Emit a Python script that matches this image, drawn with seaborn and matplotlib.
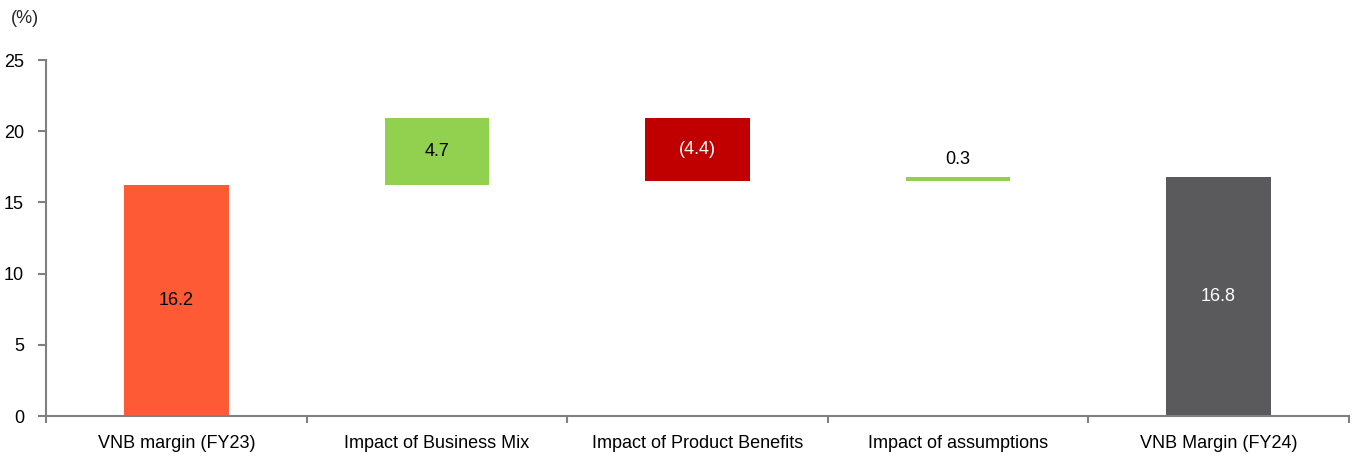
import matplotlib
matplotlib.use("Agg")
import matplotlib.pyplot as plt
import seaborn as sns
import pandas as pd
from matplotlib.ticker import FixedLocator

categories = ["VNB margin (FY23)", "Impact of Business Mix", "Impact of Product Benefits",
              "Impact of assumptions", "VNB Margin (FY24)"]
start_value = 16.2
deltas = [4.7, -4.4, 0.3]
end_value = 16.8
labels = ["16.2", "4.7", "(4.4)", "0.3", "16.8"]
colors = ["#FF5A36", "#92D050", "#C00000", "#92D050", "#5A5A5C"]
label_colors = ["black", "black", "white", "black", "white"]

# compute waterfall bases/heights
bottoms = [0.0]
heights = [start_value]
level = start_value
for d in deltas:
    new = level + d
    bottoms.append(min(level, new))
    heights.append(abs(d))
    level = new
bottoms.append(0.0)
heights.append(end_value)

df = pd.DataFrame({"cat": categories, "height": heights, "bottom": bottoms})

sns.set_theme(style="white")
plt.rcParams["font.family"] = ["Liberation Sans Narrow", "Liberation Sans", "DejaVu Sans"]

fig = plt.figure(figsize=(13.57, 4.57), dpi=100)
ax = fig.add_axes([0.034, 0.0897, 0.96, 0.779])

sns.barplot(data=df, x="cat", y="height", hue="cat", palette=colors, legend=False,
            width=0.4, ax=ax, saturation=1, linewidth=0)

# shift each bar to its waterfall base
for p in ax.patches:
    idx = int(round(p.get_x() + p.get_width() / 2))
    p.set_y(bottoms[idx])

for i, (b, h, t, c) in enumerate(zip(bottoms, heights, labels, label_colors)):
    if h < 1:
        ax.text(i, b + h + 0.6, t, ha="center", va="bottom", color=c, fontsize=13)
    else:
        ax.text(i, b + h / 2, t, ha="center", va="center", color=c, fontsize=13)

ax.set_xlim(-0.5, len(categories) - 0.5)
ax.set_ylim(0, 25)
ax.set_yticks([0, 5, 10, 15, 20, 25])
ax.set_xlabel("")
ax.set_ylabel("")
ax.xaxis.set_minor_locator(FixedLocator([i - 0.5 for i in range(len(categories) + 1)]))
ax.tick_params(axis="x", which="major", length=0, labelsize=13, pad=14, colors="black")
ax.tick_params(axis="x", which="minor", length=5, width=1.5, color="#808080",
               direction="out", bottom=True)
ax.tick_params(axis="y", which="major", length=6, width=1.5, color="#808080", labelsize=13,
               labelcolor="black", left=True, direction="out", pad=10)
for s in ["top", "right"]:
    ax.spines[s].set_visible(False)
for s in ["left", "bottom"]:
    ax.spines[s].set_color("#808080")
    ax.spines[s].set_linewidth(1.5)

fig.text(0.008, 0.96, "(%)", fontsize=13, ha="left", va="center")

fig.savefig("out.png", dpi=100)
